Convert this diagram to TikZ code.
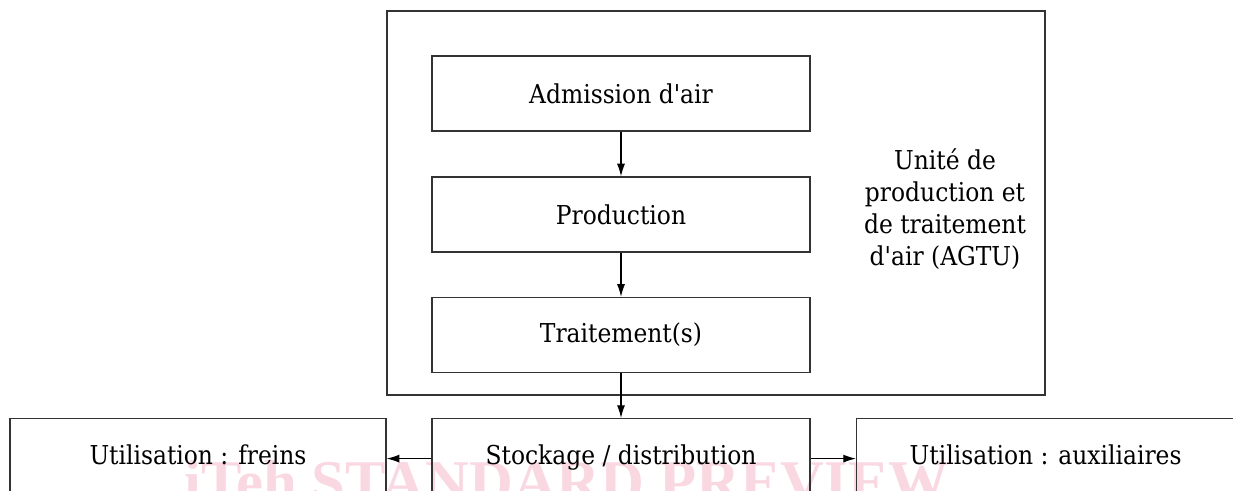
\documentclass[tikz,border=0pt]{standalone}
\usepackage{fontspec}
\newfontfamily\labfont{DejaVu Serif Condensed}
\newfontfamily\wmfont{Liberation Serif}
\usetikzlibrary{arrows.meta}
\definecolor{linegray}{HTML}{333333}
\definecolor{wmpink}{RGB}{249,216,226}
\tikzset{
  box/.style={draw=linegray, line width=0.9pt, inner sep=0pt, minimum width=283.5pt, align=center},
  midbox/.style={box, minimum height=56.25pt},
  cutbox/.style={box, anchor=north, text height=34.5pt, text depth=60pt},
  arr/.style={draw=black, line width=0.9pt, -{Latex[length=9.5pt,width=6pt]}},
  lbl/.style={font=\labfont\fontsize{19.5}{24}\selectfont}
}
\begin{document}
\begin{tikzpicture}[x=0.75pt, y=-0.75pt, every node/.style={lbl}]
\path[use as bounding box, clip] (0,0) rectangle (1233,490);
\node[text=wmpink, anchor=base, font=\wmfont\bfseries\fontsize{45.5}{50}\selectfont] (wm) at (567,502) {iTeh STANDARD PREVIEW};
\node[draw=linegray, line width=0.9pt, minimum width=493.5pt, minimum height=288pt, inner sep=0pt] (agtu) at (716,203) {};
\node[midbox] (adm) at (621,93.5) {Admission d'air};
\node[midbox] (prod) at (621,214.5) {Production};
\node[midbox] (trait) at (621,335) {Traitement(s)};
\node[align=center] (lab) at (945,209) {Unité de\\production et\\de traitement\\d'air (AGTU)};
\node[cutbox] (stock) at (621,418) {Stockage / distribution};
\node[cutbox, minimum width=282pt] (frein) at (198,418) {Utilisation : freins};
\node[cutbox, minimum width=300pt, anchor=north west] (aux) at (856,418) {\hspace*{-16.5pt}Utilisation : auxiliaires};
\draw[arr] (adm) -- (prod);
\draw[arr] (prod) -- (trait);
\draw[arr] (trait) -- (stock);
\draw[arr] ([yshift=4.5pt]stock.base west) -- ([yshift=4.5pt]frein.base east);
\draw[arr] ([yshift=4.5pt]stock.base east) -- ([yshift=4.5pt]aux.base west);
\end{tikzpicture}
\end{document}
